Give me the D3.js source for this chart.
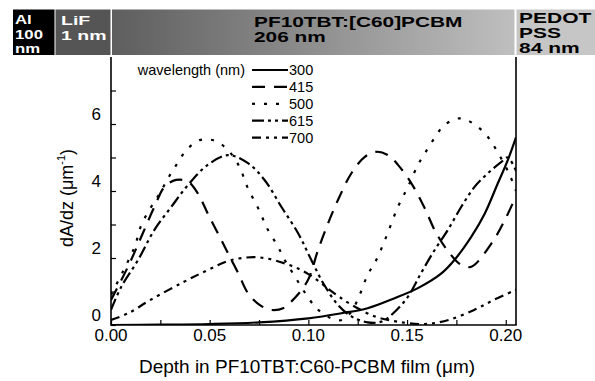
<!DOCTYPE html>
<html>
<head>
<meta charset="utf-8">
<script src="https://cdn.jsdelivr.net/npm/d3@7"></script>
<style>
  body { margin: 0; background: #fff; }
  svg { display: block; font-family: "Liberation Sans", Arial, sans-serif; }
</style>
</head>
<body>
<svg id="chart"></svg>
<script>
// depth (um) vs dA/dz (um^-1)
var wl300 = [[0,0],[0.025,0.01],[0.05,0.03],[0.075,0.08],[0.1,0.2],[0.1167,0.35],[0.13,0.5],[0.1437,0.8],
  [0.1555,1.1],[0.1674,1.54],[0.174,1.94],[0.1826,2.64],[0.1894,3.33],[0.196,4.23],[0.2011,4.93],[0.2052,5.6]];
var wl415 = [[0,0.75],[0.0086,1.74],[0.0154,2.64],[0.022,3.53],[0.0272,4.13],[0.033,4.33],[0.039,4.28],[0.044,3.93],
  [0.049,3.33],[0.055,2.64],[0.0593,2.14],[0.0645,1.54],[0.0694,0.95],[0.0753,0.6],[0.0812,0.45],[0.0872,0.5],
  [0.093,0.8],[0.0998,1.34],[0.1049,2.24],[0.11,3.04],[0.115,3.73],[0.1218,4.53],[0.1286,5.02],[0.1344,5.17],
  [0.1403,5.07],[0.1454,4.78],[0.1522,4.23],[0.159,3.48],[0.1648,2.74],[0.1716,2.14],[0.1775,1.79],[0.1826,1.74],
  [0.1928,2.44],[0.1995,3.13],[0.2052,3.85]];
var wl500 = [[0,0.9],[0.006,1.59],[0.012,2.34],[0.0154,2.99],[0.0204,3.53],[0.0247,3.93],[0.0289,4.38],[0.0331,4.78],
  [0.0382,5.22],[0.045,5.52],[0.0525,5.5],[0.0593,5.22],[0.065,4.73],[0.069,4.13],[0.075,3.43],[0.0795,2.84],
  [0.0846,2.34],[0.088,1.94],[0.0922,1.54],[0.1007,0.75],[0.105,0.45],[0.1116,0.2],[0.117,0.15],[0.1218,0.4],
  [0.126,0.9],[0.13,1.49],[0.1344,1.94],[0.1395,2.64],[0.1454,3.53],[0.1505,4.13],[0.1555,4.78],[0.159,5.12],
  [0.1632,5.52],[0.169,5.97],[0.1767,6.17],[0.1834,6.02],[0.1902,5.67],[0.1953,5.22],[0.202,4.48],[0.2052,4.0]];
var wl615 = [[0,0.45],[0.0052,1.14],[0.0137,1.94],[0.022,2.84],[0.0306,3.53],[0.039,4.18],[0.049,4.78],[0.0593,5.07],
  [0.0694,4.83],[0.0778,4.33],[0.0863,3.53],[0.0948,2.74],[0.1015,1.94],[0.108,1.2],[0.115,0.6],[0.122,0.25],
  [0.13,0.08],[0.137,0.1],[0.143,0.35],[0.1505,0.85],[0.157,1.54],[0.164,2.24],[0.1707,2.84],[0.1775,3.53],
  [0.1843,4.13],[0.191,4.53],[0.1978,4.87],[0.201,5.0],[0.2052,4.6]];
var wl700 = [[0,0.15],[0.0087,0.35],[0.02,0.75],[0.037,1.29],[0.049,1.64],[0.061,1.94],[0.0745,2.02],[0.088,1.84],
  [0.1,1.52],[0.113,0.95],[0.122,0.6],[0.134,0.25],[0.145,0.1],[0.159,0.03],[0.171,0.15],[0.184,0.45],
  [0.194,0.75],[0.2052,1.05]];

var seriesNames = ["300", "415", "500", "615", "700"];
var seriesData = [wl300, wl415, wl500, wl615, wl700];
var dashes = [null, "13,9", "3,9", "12,4,3,4,3,4", "9,5,3,5,3,5"];

var xTicks = [0, 0.05, 0.10, 0.15, 0.20];
var xMinor = [0.025, 0.075, 0.125, 0.175];
var yTicks = [0, 2, 4, 6];
var yMinor = [1, 3, 5, 7];

// layer bar across the top
var layerNames = [["Al", "100", "nm"], ["LiF", "1 nm"], ["PF10TBT:[C60]PCBM", "206 nm"], ["PEDOT", "PSS", "84 nm"]];

var width = 595, height = 381;
var plotL = 111, plotR = 516, plotT = 57, plotB = 325;

var svg = d3.select("#chart").attr("width", width).attr("height", height);

var x = d3.scaleLinear().domain([0, 0.2052]).range([plotL, plotR]);
var y = d3.scaleLinear().domain([0, 8]).range([plotB, plotT]);

var defs = svg.append("defs");
var grad = defs.append("linearGradient").attr("id", "pfgrad");
grad.append("stop").attr("offset", "0%").attr("stop-color", "#5e5e5e");
grad.append("stop").attr("offset", "100%").attr("stop-color", "#bfbfbf");
defs.append("clipPath").attr("id", "plotclip")
    .append("rect").attr("x", plotL).attr("y", plotT - 2)
    .attr("width", plotR - plotL).attr("height", plotB - plotT + 2);

// frame
var frame = svg.append("g").attr("stroke", "#000").attr("stroke-width", 1.6);
frame.append("line").attr("x1", plotL).attr("x2", plotL).attr("y1", plotT).attr("y2", plotB);
frame.append("line").attr("x1", plotR).attr("x2", plotR).attr("y1", plotT).attr("y2", plotB);
frame.append("line").attr("x1", plotL - 0.8).attr("x2", plotR + 0.8).attr("y1", plotB).attr("y2", plotB);

// ticks point inward
var xAxis = d3.axisTop(x).tickValues(xTicks.concat(xMinor)).tickSize(5).tickFormat("");
svg.append("g").attr("transform", "translate(0," + plotB + ")").call(xAxis)
   .call(function(g) { g.select(".domain").remove(); g.selectAll("line").attr("stroke-width", 1.2); });
var yAxis = d3.axisRight(y).tickValues(yTicks.concat(yMinor)).tickSize(5).tickFormat("");
svg.append("g").attr("transform", "translate(" + plotL + ",0)").call(yAxis)
   .call(function(g) { g.select(".domain").remove(); g.selectAll("line").attr("stroke-width", 1.2); });

svg.append("g").selectAll("text").data(xTicks).enter().append("text")
   .attr("x", function(d) { return x(d); })
   .attr("y", 341)
   .attr("text-anchor", "middle")
   .attr("font-size", 17)
   .text(function(d) { return d3.format(".2f")(d); });

// labels sit a little above their ticks, as in the original
svg.append("g").selectAll("text").data(yTicks).enter().append("text")
   .attr("x", 101)
   .attr("y", function(d) { return y(d) - 10; })
   .attr("dy", "0.35em")
   .attr("text-anchor", "end")
   .attr("font-size", 17)
   .text(function(d) { return d; });

svg.append("text")
   .attr("x", 307).attr("y", 373)
   .attr("text-anchor", "middle")
   .attr("font-size", 19)
   .text("Depth in PF10TBT:C60-PCBM film (\u03bcm)");

var ylab = svg.append("text")
   .attr("transform", "translate(73,198) rotate(-90)")
   .attr("text-anchor", "middle")
   .attr("font-size", 18);
ylab.append("tspan").text("dA/dz (\u03bcm");
ylab.append("tspan").attr("font-size", 11).attr("dy", -8).text("-1");
ylab.append("tspan").attr("dy", 8).text(")");

// curves
var line = d3.line()
    .x(function(d) { return x(d[0]); })
    .y(function(d) { return y(d[1]); })
    .curve(d3.curveCatmullRom.alpha(0.5));

svg.append("g").attr("clip-path", "url(#plotclip)")
   .selectAll("path").data(seriesData).enter().append("path")
   .attr("d", line)
   .attr("fill", "none")
   .attr("stroke", "#000")
   .attr("stroke-width", 2.2)
   .attr("stroke-dasharray", function(d, i) { return dashes[i]; });

// the bar, drawn last so it covers the top of the frame
var blocks = [
  {x0: 13, x1: 54.5, fill: "#000", color: "#fff", tx: 15, base: [24, 38.5, 53], fs: 12, sx: 1.4},
  {x0: 55.5, x1: 110.5, fill: "#555", color: "#fff", tx: 61, base: [24.5, 39.5], fs: 13, sx: 1.5},
  {x0: 112, x1: 514.5, fill: "url(#pfgrad)", color: "#000", tx: 254, base: [26.7, 41.7], fs: 14, sx: 1.49},
  {x0: 516.5, x1: 595, fill: "#c6c6c6", color: "#000", tx: 519, base: [22.7, 37.7, 52.7], fs: 14, sx: 1.5}
];
var bar = svg.append("g");
blocks.forEach(function(b, i) {
  bar.append("rect")
     .attr("x", b.x0).attr("y", 9.5)
     .attr("width", b.x1 - b.x0).attr("height", 45.5)
     .attr("fill", b.fill);
  layerNames[i].forEach(function(t, j) {
    bar.append("text")
       .attr("transform", "translate(" + b.tx + "," + b.base[j] + ") scale(" + b.sx + ",1)")
       .attr("font-size", b.fs)
       .attr("font-weight", "bold")
       .attr("fill", b.color)
       .text(t);
  });
});

// legend
var leg = svg.append("g");
leg.append("text").attr("x", 245).attr("y", 75).attr("text-anchor", "end")
   .attr("font-size", 14.5).text("wavelength (nm)");
seriesNames.forEach(function(nm, i) {
  var cy = 70 + i * 16.9;
  leg.append("line")
     .attr("x1", 252).attr("x2", 288).attr("y1", cy).attr("y2", cy)
     .attr("stroke", "#000").attr("stroke-width", 2.2)
     .attr("stroke-dasharray", dashes[i]);
  leg.append("text").attr("x", 289).attr("y", cy + 5)
     .attr("font-size", 14.5).text(nm);
});
</script>
</body>
</html>
